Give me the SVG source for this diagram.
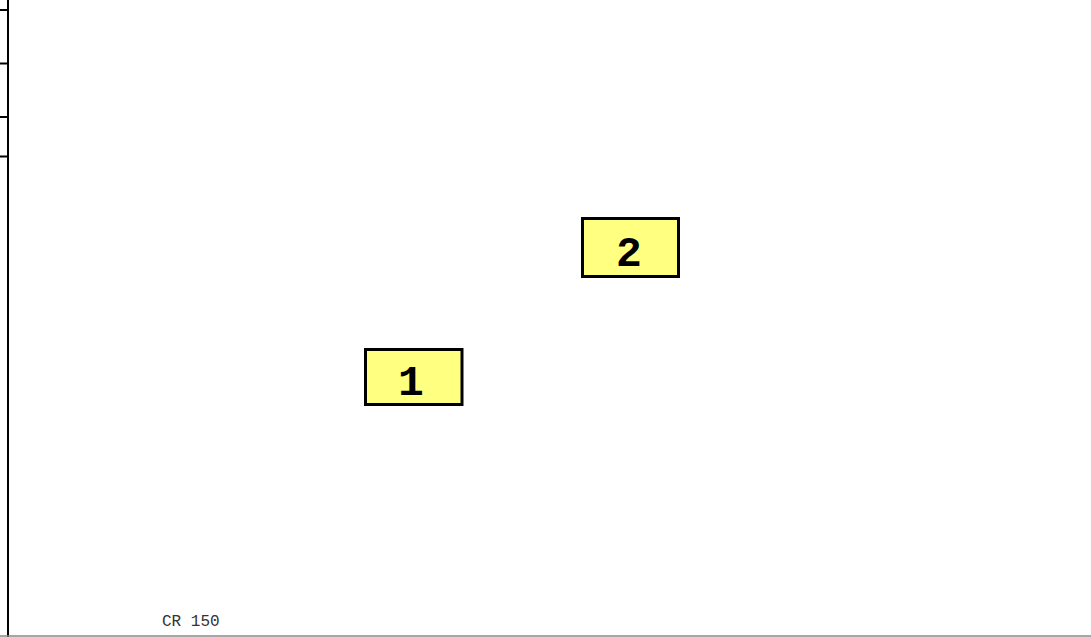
<svg xmlns="http://www.w3.org/2000/svg" width="1091" height="637" viewBox="0 0 1091 637">
<style>
.node rect{fill:#ffff80;stroke:#000;stroke-width:3}
.node text{font-family:"Liberation Mono",monospace;font-weight:bold;font-size:43px;text-anchor:middle;fill:#000}
.axis{stroke:#000;stroke-width:2;fill:none}
</style>
<rect width="1091" height="637" fill="#fff"/>
<g id="axis">
<line class="axis" x1="8" y1="0" x2="8" y2="637"/>
<line class="axis" x1="0" y1="10" x2="8" y2="10"/>
<line class="axis" x1="0" y1="63.5" x2="8" y2="63.5"/>
<line class="axis" x1="0" y1="117" x2="8" y2="117"/>
<line class="axis" x1="0" y1="156.5" x2="8" y2="156.5"/>
<line x1="0" y1="636" x2="1091" y2="636" stroke="#888" stroke-width="1.5"/>
</g>
<g id="connectors"></g>
<g id="node1" class="node">
<rect x="365.5" y="349.5" width="96.5" height="55"/>
<text x="411" y="395">1</text>
</g>
<g id="node2" class="node">
<rect x="582.5" y="218.5" width="96" height="58"/>
<text x="629" y="266">2</text>
</g>
<text x="162" y="626" font-family="Liberation Mono,monospace" font-size="16" fill="#333">CR 150</text>
</svg>
